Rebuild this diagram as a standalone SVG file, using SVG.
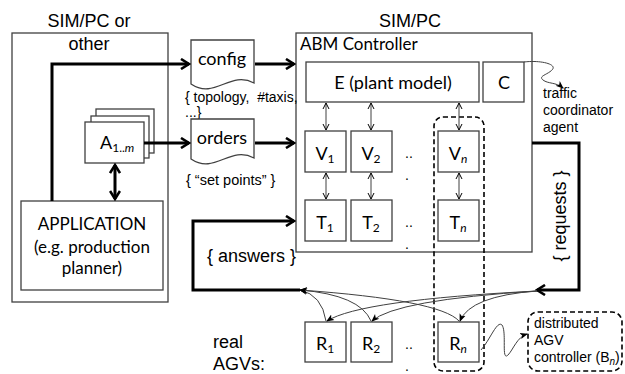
<svg xmlns="http://www.w3.org/2000/svg" width="625" height="374" viewBox="0 0 625 374">
<defs>
<style>
.box{fill:#fff;stroke:#404040;stroke-width:1.3}
.frame{fill:none;stroke:#404040;stroke-width:1.3}
.dash{fill:none;stroke:#000;stroke-width:1.6;stroke-dasharray:5,3}
.thick{fill:none;stroke:#000;stroke-width:3}
.thin{fill:none;stroke:#404040;stroke-width:1}
.cal{font-family:Lato,"Liberation Sans",sans-serif;fill:#000}
.ar{font-family:"Liberation Sans",Arial,sans-serif;fill:#000}
</style>
<marker id="big" viewBox="0 0 12 12" refX="10" refY="6" markerWidth="12" markerHeight="12" markerUnits="userSpaceOnUse" orient="auto-start-reverse">
<path d="M2,1 L10,6 L2,11" fill="none" stroke="#000" stroke-width="2.6"/>
</marker>
<marker id="sm" viewBox="0 0 8 8" refX="7" refY="4" markerWidth="8" markerHeight="8" markerUnits="userSpaceOnUse" orient="auto-start-reverse">
<path d="M1,1 L7,4 L1,7" fill="none" stroke="#000" stroke-width="1"/>
</marker>
<marker id="tri" viewBox="0 0 8 8" refX="7" refY="4" markerWidth="8" markerHeight="8" markerUnits="userSpaceOnUse" orient="auto">
<path d="M0,0.8 L8,4 L0,7.2 L2,4 Z" fill="#000"/>
</marker>
</defs>

<!-- containers -->
<g id="sim-other">
<rect class="frame" x="12" y="33" width="156" height="269"/>
<text class="ar" x="89" y="27" font-size="18" text-anchor="middle">SIM/PC or</text>
<text class="ar" x="89" y="50" font-size="18" text-anchor="middle">other</text>
</g>
<g id="abm">
<rect class="frame" x="296" y="33" width="236" height="219"/>
<text class="ar" x="410" y="27" font-size="18" text-anchor="middle">SIM/PC</text>
<text class="cal" x="300" y="50" font-size="17">ABM Controller</text>
</g>

<g id="application">
<rect class="box" x="21" y="201" width="142" height="89"/>
<text class="cal" x="92" y="230" font-size="17" text-anchor="middle">APPLICATION</text>
<text class="cal" x="92" y="253" font-size="17" text-anchor="middle">(e.g. production</text>
<text class="cal" x="92" y="274" font-size="17" text-anchor="middle">planner)</text>
</g>

<g id="agents-A">
<rect class="box" x="96" y="109" width="58" height="44"/>
<rect class="box" x="91" y="116" width="58" height="42"/>
<rect class="box" x="85" y="122" width="59" height="41"/>
<text class="cal" x="100" y="149" font-size="18">A<tspan font-size="12" dy="3">1..<tspan font-style="italic">m</tspan></tspan></text>
</g>

<g id="config">
<path class="box" d="M191,40 H254 V83 C230,70 215,100 191,84 Z"/>
<text class="cal" x="222" y="65" font-size="18" text-anchor="middle">config</text>
<text class="ar" x="185" y="102" font-size="14">{ topology,&#160; #taxis,</text>
<text class="ar" x="185" y="117" font-size="14">...}</text>
</g>
<g id="orders">
<path class="box" d="M191,119 H254 V158 C230,145 215,175 191,159 Z"/>
<text class="cal" x="222" y="144" font-size="18" text-anchor="middle">orders</text>
<text class="ar" x="186" y="185" font-size="14.5">{ “set points” }</text>
</g>

<g id="E">
<rect class="box" x="306" y="62" width="173" height="40"/>
<text class="cal" x="393" y="89" font-size="18" text-anchor="middle">E (plant model)</text>
</g>
<g id="C">
<rect class="box" x="483" y="62" width="41" height="40"/>
<text class="cal" x="504" y="89" font-size="18" text-anchor="middle">C</text>
<text class="ar" x="543" y="98" font-size="14">traffic</text>
<text class="ar" x="543" y="115" font-size="14">coordinator</text>
<text class="ar" x="543" y="132" font-size="14">agent</text>
</g>

<g id="V1"><rect class="box" x="305" y="131" width="41" height="41"/><text class="cal" x="325" y="160" font-size="18" text-anchor="middle">V<tspan font-size="12" dy="3">1</tspan></text></g>
<g id="V2"><rect class="box" x="351" y="131" width="41" height="41"/><text class="cal" x="371" y="160" font-size="18" text-anchor="middle">V<tspan font-size="12" dy="3">2</tspan></text></g>
<g id="Vn"><rect class="box" x="438" y="131" width="41" height="41"/><text class="cal" x="458" y="160" font-size="18" text-anchor="middle">V<tspan font-size="12" dy="3" font-style="italic">n</tspan></text></g>

<g id="T1"><rect class="box" x="305" y="200" width="41" height="41"/><text class="cal" x="325" y="229" font-size="18" text-anchor="middle">T<tspan font-size="12" dy="3">1</tspan></text></g>
<g id="T2"><rect class="box" x="351" y="200" width="41" height="41"/><text class="cal" x="371" y="229" font-size="18" text-anchor="middle">T<tspan font-size="12" dy="3">2</tspan></text></g>
<g id="Tn"><rect class="box" x="438" y="200" width="41" height="41"/><text class="cal" x="458" y="229" font-size="18" text-anchor="middle">T<tspan font-size="12" dy="3" font-style="italic">n</tspan></text></g>

<g id="R1"><rect class="box" x="305" y="322" width="41" height="40"/><text class="cal" x="325" y="350" font-size="18" text-anchor="middle">R<tspan font-size="12" dy="3">1</tspan></text></g>
<g id="R2"><rect class="box" x="351" y="322" width="41" height="40"/><text class="cal" x="371" y="350" font-size="18" text-anchor="middle">R<tspan font-size="12" dy="3">2</tspan></text></g>
<g id="Rn"><rect class="box" x="438" y="322" width="41" height="40"/><text class="cal" x="458" y="350" font-size="18" text-anchor="middle">R<tspan font-size="12" dy="3" font-style="italic">n</tspan></text></g>

<g id="dots" class="ar" font-size="14">
<text x="405" y="158">..</text><text x="405" y="180">.</text>
<text x="405" y="227">..</text><text x="405" y="249">.</text>
<text x="405" y="349">..</text><text x="405" y="371">.</text>
</g>

<g id="agent-n">
<rect class="dash" x="434" y="117" width="50" height="254" rx="9"/>
</g>
<g id="distributed">
<rect class="dash" x="528" y="312" width="94" height="59" rx="10"/>
<text class="ar" x="534" y="328" font-size="14">distributed</text>
<text class="ar" x="534" y="345" font-size="14">AGV</text>
<text class="ar" x="534" y="362" font-size="14">controller (B<tspan font-size="10" dy="3" font-style="italic">n</tspan><tspan dy="-3">)</tspan></text>
</g>

<g id="labels">
<text class="ar" x="207" y="262" font-size="18">{ answers }</text>
<text class="ar" x="0" y="0" font-size="18" text-anchor="middle" transform="translate(566,216) rotate(-90)">{ requests }</text>
<text class="ar" x="213" y="348" font-size="18">real</text>
<text class="ar" x="213" y="370" font-size="18">AGVs:</text>
</g>

<g id="connectors">
<path class="thick" d="M52,201 V64 H189" marker-end="url(#big)"/>
<path class="thick" d="M255,64 H294" marker-end="url(#big)"/>
<path class="thick" d="M144,143 H189" marker-end="url(#big)"/>
<path class="thick" d="M255,143 H294" marker-end="url(#big)"/>
<path class="thick" d="M115,165 V199" marker-start="url(#big)" marker-end="url(#big)"/>
<path class="thick" d="M300,290 H193 V221 H294" marker-end="url(#big)"/>
<path class="thick" d="M532,143 H579 V290 H537" marker-end="url(#big)"/>

<path class="thin" d="M326,103 V130" marker-start="url(#sm)" marker-end="url(#sm)"/>
<path class="thin" d="M371,103 V130" marker-start="url(#sm)" marker-end="url(#sm)"/>
<path class="thin" d="M459,103 V130" marker-start="url(#sm)" marker-end="url(#sm)"/>
<path class="thin" d="M326,173 V199" marker-start="url(#sm)" marker-end="url(#sm)"/>
<path class="thin" d="M371,173 V199" marker-start="url(#sm)" marker-end="url(#sm)"/>
<path class="thin" d="M459,173 V199" marker-start="url(#sm)" marker-end="url(#sm)"/>

<path class="thin" d="M537,291 Q360,300 327,321" marker-end="url(#tri)"/>
<path class="thin" d="M537,291 Q395,300 372,321" marker-end="url(#tri)"/>
<path class="thin" d="M537,291 Q470,296 460,321" marker-end="url(#tri)"/>
<path class="thin" d="M326,321 Q322,295 300,290" marker-end="url(#tri)"/>
<path class="thin" d="M371,321 Q360,295 300,290" marker-end="url(#tri)"/>
<path class="thin" d="M459,321 Q440,300 300,290" marker-end="url(#tri)"/>

<path class="thin" d="M524,62 C540,60 558,64 552,70 C547,75 538,76 543,80 C548,84 556,82 563,88" marker-end="url(#tri)"/>
<path class="thin" d="M481,350 C490,340 497,320 502,325 C507,332 501,362 508,355 C513,350 517,337 527,334" marker-end="url(#tri)"/>
</g>
</svg>
